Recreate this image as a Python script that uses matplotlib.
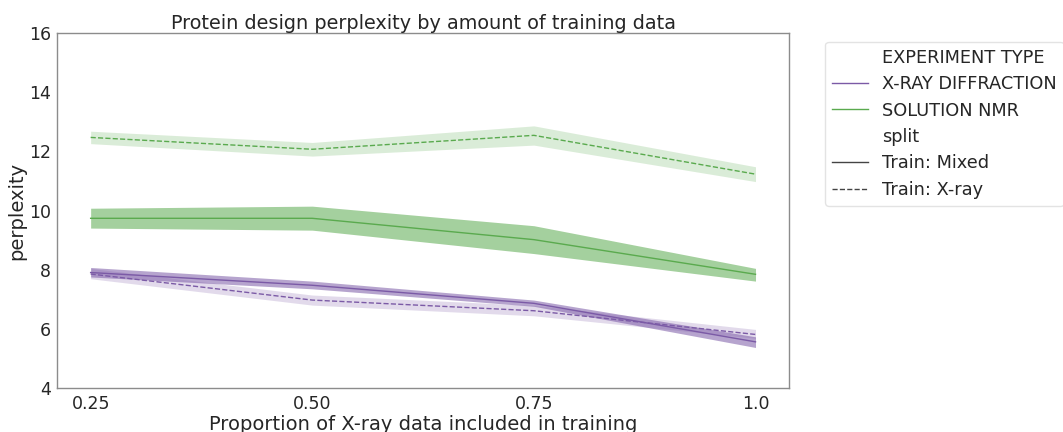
import matplotlib
matplotlib.use("Agg")
import matplotlib.pyplot as plt
from matplotlib.lines import Line2D
import numpy as np

x_labels = ["0.25", "0.50", "0.75", "1.0"]

# SOLUTION NMR, Train: X-ray
nmr_xray_mean = [12.47, 12.07, 12.54, 11.23]
nmr_xray_lo = [12.26, 11.84, 12.21, 10.98]
nmr_xray_hi = [12.68, 12.30, 12.86, 11.48]
# SOLUTION NMR, Train: Mixed
nmr_mixed_mean = [9.74, 9.74, 9.02, 7.85]
nmr_mixed_lo = [9.41, 9.34, 8.55, 7.62]
nmr_mixed_hi = [10.08, 10.15, 9.49, 8.05]
# X-RAY DIFFRACTION, Train: Mixed
xr_mixed_mean = [7.91, 7.48, 6.87, 5.57]
xr_mixed_lo = [7.76, 7.36, 6.77, 5.38]
xr_mixed_hi = [8.08, 7.62, 6.98, 5.74]
# X-RAY DIFFRACTION, Train: X-ray
xr_xray_mean = [7.86, 6.98, 6.62, 5.82]
xr_xray_lo = [7.70, 6.81, 6.45, 5.69]
xr_xray_hi = [8.05, 7.15, 6.80, 5.99]

purple = "#7b5aa6"
green = "#5aaa4e"
text_c = "#262626"

plt.rcParams["font.family"] = ["DejaVu Sans"]
fig = plt.figure(figsize=(10.63, 4.32), dpi=100)
ax = fig.add_axes([0.054, 0.101, 0.688, 0.823])

x = np.arange(len(x_labels))

series = [
    (nmr_xray_mean, nmr_xray_lo, nmr_xray_hi, green, "--", 0.22),
    (nmr_mixed_mean, nmr_mixed_lo, nmr_mixed_hi, green, "-", 0.55),
    (xr_xray_mean, xr_xray_lo, xr_xray_hi, purple, "--", 0.22),
    (xr_mixed_mean, xr_mixed_lo, xr_mixed_hi, purple, "-", 0.55),
]
for m, lo, hi, c, ls, a in series:
    ax.fill_between(x, lo, hi, color=c, alpha=a, linewidth=0)
    ax.plot(x, m, color=c, linestyle=ls, linewidth=1.0)

ax.set_ylim(4, 16)
ax.set_yticks([4, 6, 8, 10, 12, 14, 16])
ax.set_xticks(x)
ax.set_xticklabels(x_labels)
ax.tick_params(axis="both", length=0, labelsize=12.5, colors=text_c, pad=4.5)
for s in ax.spines.values():
    s.set_color("#8c8c8c")
    s.set_linewidth(1.0)

ax.set_title("Protein design perplexity by amount of training data", fontsize=13.9, color=text_c, pad=3)
ax.set_xlabel("Proportion of X-ray data included in training", fontsize=14, color=text_c, labelpad=2)
ax.set_ylabel("perplexity", fontsize=14, color=text_c, labelpad=2)

handles = [
    Line2D([], [], color="none"),
    Line2D([], [], color=purple, lw=1.0),
    Line2D([], [], color=green, lw=1.0),
    Line2D([], [], color="none"),
    Line2D([], [], color="#444444", lw=1.0),
    Line2D([], [], color="#444444", lw=1.0, ls="--"),
]
labels = ["EXPERIMENT TYPE", "X-RAY DIFFRACTION", "SOLUTION NMR", "split", "Train: Mixed", "Train: X-ray"]
leg = ax.legend(handles, labels, loc="upper left", bbox_to_anchor=(1.05, 1.0 - 9.0 / 355.0),
                fontsize=12.8, frameon=True, borderaxespad=0.0, handlelength=2.0,
                handletextpad=0.8, labelspacing=0.47)
leg.get_frame().set_edgecolor("#dddddd")
for t in leg.get_texts():
    t.set_color(text_c)

fig.savefig("out.png", dpi=100)
